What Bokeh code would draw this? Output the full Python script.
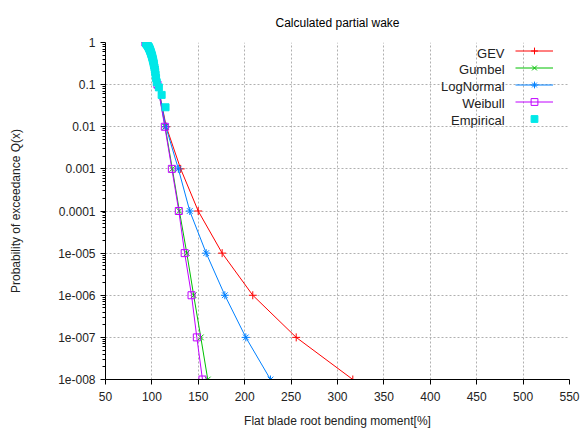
from bokeh.plotting import figure
from bokeh.models import Range1d, FixedTicker, Legend, LegendItem, Label
from bokeh.embed import file_html
from bokeh.resources import INLINE

# ---- data ----
q_levels = [1.0, 0.1, 0.01, 1e-3, 1e-4, 1e-5, 1e-6, 1e-7, 1e-8]
gev_x = [93.0, 106.3, 115.5, 131.0, 149.9, 175.7, 208.7, 255.5, 316.5]
gumbel_x = [93.5, 106.0, 114.3, 122.0, 129.6, 137.6, 145.0, 152.7, 160.2]
lognormal_x = [93.0, 106.3, 115.0, 128.5, 140.8, 158.5, 178.6, 201.2, 227.8]
weibull_x = [93.0, 106.0, 113.9, 121.5, 129.0, 135.3, 142.7, 148.4, 154.5]

empirical_q = [0.971, 0.943, 0.914, 0.886, 0.857, 0.829, 0.800, 0.771, 0.743,
               0.714, 0.686, 0.657, 0.629, 0.600, 0.571, 0.543, 0.514, 0.486,
               0.457, 0.429, 0.400, 0.371, 0.343, 0.314, 0.286, 0.257, 0.229,
               0.200, 0.171, 0.143, 0.114, 0.086, 0.057, 0.029]
empirical_x = [93.5, 94.0, 94.5, 95.0, 95.3, 95.8, 96.2, 96.6, 97.0,
               97.3, 97.6, 98.0, 98.3, 98.6, 99.0, 99.3, 99.6, 100.0,
               100.3, 100.6, 101.0, 101.3, 101.7, 102.0, 102.3, 102.8, 103.2,
               103.6, 104.0, 104.5, 105.2, 107.5, 110.5, 114.7]

x_ticks = [50, 100, 150, 200, 250, 300, 350, 400, 450, 500, 550]
y_ticks = [1.0, 0.1, 0.01, 0.001, 0.0001, 1e-05, 1e-06, 1e-07, 1e-08]
y_tick_labels = ["1", "0.1", "0.01", "0.001", "0.0001", "1e-005", "1e-006", "1e-007", "1e-008"]
series_names = ["GEV", "Gumbel", "LogNormal", "Weibull", "Empirical"]

title_text = "Calculated partial wake"
x_label = "Flat blade root bending moment[%]"
y_label = "Probability of exceedance Q(x)"

FONT = "Liberation Sans"
PX_PER_DECADE = 42.375
FRAME_TOP = 41.0

p = figure(width=580, height=430, x_range=Range1d(50, 550), y_range=Range1d(1e-8, 1),
           y_axis_type="log", output_backend="svg", toolbar_location=None,
           min_border_left=105, min_border_right=11, min_border_top=41, min_border_bottom=50)
p.outline_line_color = None
p.background_fill_color = "white"
p.border_fill_color = "white"

p.title.text = title_text
p.title.align = "center"
p.title.text_font = FONT
p.title.text_font_size = "12px"
p.title.text_font_style = "normal"
p.title.text_color = "#000000"
p.title.standoff = 26

minor = [m * 10.0 ** e for e in range(-8, 0) for m in range(2, 10)]
yt = FixedTicker(ticks=y_ticks, minor_ticks=minor)
xt = FixedTicker(ticks=x_ticks)

p.xaxis.ticker = xt
p.yaxis.ticker = yt
p.yaxis.major_label_overrides = {v: s for v, s in zip(y_ticks, y_tick_labels)}
p.xgrid.ticker = xt
p.ygrid.ticker = yt

for g in (p.xgrid, p.ygrid):
    g.grid_line_color = "#b0b0b0"
    g.grid_line_dash = "2 2"
    g.grid_line_width = 1

for ax in (p.xaxis, p.yaxis):
    ax.axis_line_color = "black"
    ax.major_tick_line_color = "black"
    ax.minor_tick_line_color = "black"
    ax.major_tick_in = 0
    ax.major_tick_out = 5
    ax.minor_tick_in = 0
    ax.minor_tick_out = 3
    ax.major_label_text_font = FONT
    ax.major_label_text_font_size = "12px"
    ax.major_label_text_color = "#222222"
    ax.axis_label_text_font = FONT
    ax.axis_label_text_font_size = "12px"
    ax.axis_label_text_font_style = "normal"
    ax.axis_label_text_color = "#222222"

p.xaxis.axis_label = x_label
p.yaxis.axis_label = y_label
p.xaxis.major_label_standoff = 7
p.yaxis.major_label_standoff = 5
p.xaxis.axis_label_standoff = 10
p.yaxis.axis_label_standoff = 32

colors = ["#ff0000", "#00c000", "#0080ff", "#c000ff", "#00e8e8"]
markers = ["cross", "x", "asterisk", "square"]
fits = [gev_x, gumbel_x, lognormal_x, weibull_x]

items = []
for xs, c, m, name in zip(fits, colors, markers, series_names):
    r1 = p.line(xs, q_levels, line_color=c, line_width=1)
    if m == "square":
        r2 = p.scatter(xs, q_levels, marker=m, size=7, fill_color=None, line_color=c, line_width=1)
    else:
        r2 = p.scatter(xs, q_levels, marker=m, size=8, line_color=c, line_width=1)
    items.append(LegendItem(label=" ", renderers=[r1, r2]))

re = p.scatter(empirical_x, empirical_q, marker="square", size=7,
               fill_color=colors[4], line_color=colors[4])
items.append(LegendItem(label=" ", renderers=[re]))

legend = Legend(items=items, location=(410, 252), orientation="vertical",
                glyph_width=38, glyph_height=17, label_height=17, label_width=0,
                label_standoff=0, spacing=0, padding=0, margin=0,
                border_line_color=None, background_fill_alpha=0,
                label_text_font_size="1px")
p.add_layout(legend)

# legend texts (right aligned, left of the samples), positioned in data space
row_pix = [51.6, 68.6, 85.6, 102.6, 119.6]
for name, ypix in zip(series_names, row_pix):
    yq = 10 ** (-(ypix - FRAME_TOP) / PX_PER_DECADE)
    p.add_layout(Label(x=480, y=yq, text=name, text_align="right", text_baseline="middle",
                       text_font=FONT, text_font_size="13px", text_color="#222222"))

open("out.html", "w").write(file_html(p, INLINE))
